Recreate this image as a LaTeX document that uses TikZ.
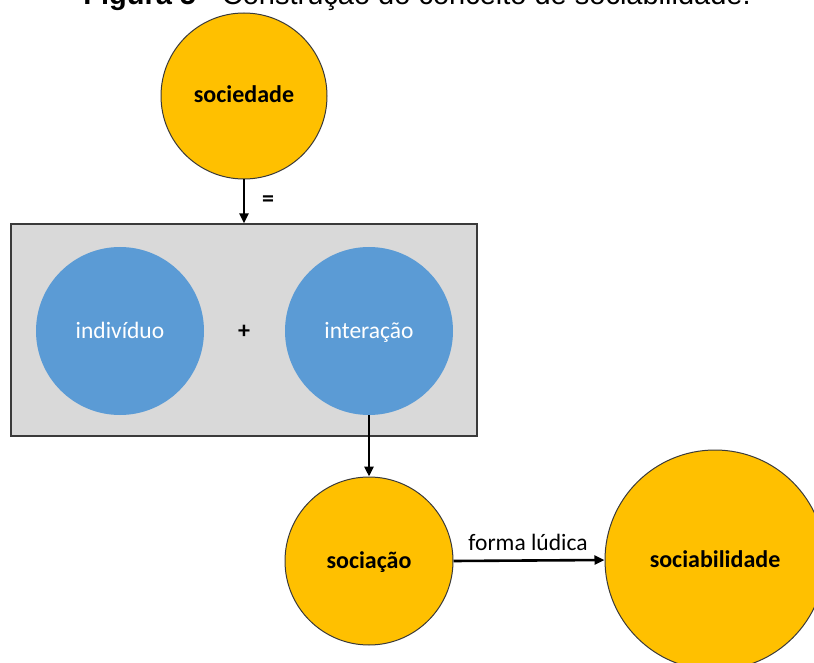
\documentclass[tikz,border=0pt]{standalone}
\usepackage{fontspec}
\setmainfont{Carlito}
\newfontfamily\arialfont{Liberation Sans}
\usetikzlibrary{arrows.meta}
\definecolor{orng}{HTML}{FFC000}
\definecolor{blu}{HTML}{5B9BD5}
\definecolor{boxgray}{HTML}{D9D9D9}
\definecolor{edge}{HTML}{3A3A3A}
\tikzset{
  lbl/.style={font=\fontsize{23.5}{28}\selectfont, text height=18pt, text depth=4pt},
  boldlbl/.style={font=\fontsize{24}{28}\selectfont\bfseries, text height=18pt, text depth=4pt},
  orangecirc/.style={circle, fill=orng, draw=edge, line width=1pt, inner sep=0pt, boldlbl},
  bluecirc/.style={circle, fill=blu, draw=none, inner sep=0pt, text=white, lbl},
  graybox/.style={rectangle, fill=boxgray, draw=edge, line width=1.3pt, inner sep=0pt},
  arr/.style={line width=2.6pt, -{Triangle[length=10pt, width=9pt]}},
}
\begin{document}
\begin{tikzpicture}[x=1pt,y=-1pt]
\useasboundingbox (0,0) rectangle (814,663);
\node[anchor=base, font=\arialfont\fontsize{29}{34}\selectfont] (title) at (417,5) {\textbf{Figura 5} - Construção do conceito de sociabilidade.};
\node[graybox, minimum width=466pt, minimum height=212pt] (box) at (244,330) {};
\node[orangecirc, minimum size=166pt] (soc) at (244,96) {sociedade};
\node[bluecirc, minimum size=168pt] (ind) at (120,331) {indivíduo};
\node[bluecirc, minimum size=168pt] (int) at (369,331) {interação};
\node[boldlbl] (plus) at (244,331) {+};
\node[orangecirc, minimum size=168pt] (scc) at (369,561) {sociação};
\node[orangecirc, minimum size=220pt] (sbl) at (715,560) {sociabilidade};
\draw[arr] (soc.south) -- (box.north);
\node[boldlbl] (eq) at (268,200) {=};
\draw[arr] (int.south) -- (scc.north);
\draw[arr] (scc.east) -- (sbl.west);
\node[lbl] (fl) at (528,543) {forma lúdica};
\end{tikzpicture}
\end{document}
